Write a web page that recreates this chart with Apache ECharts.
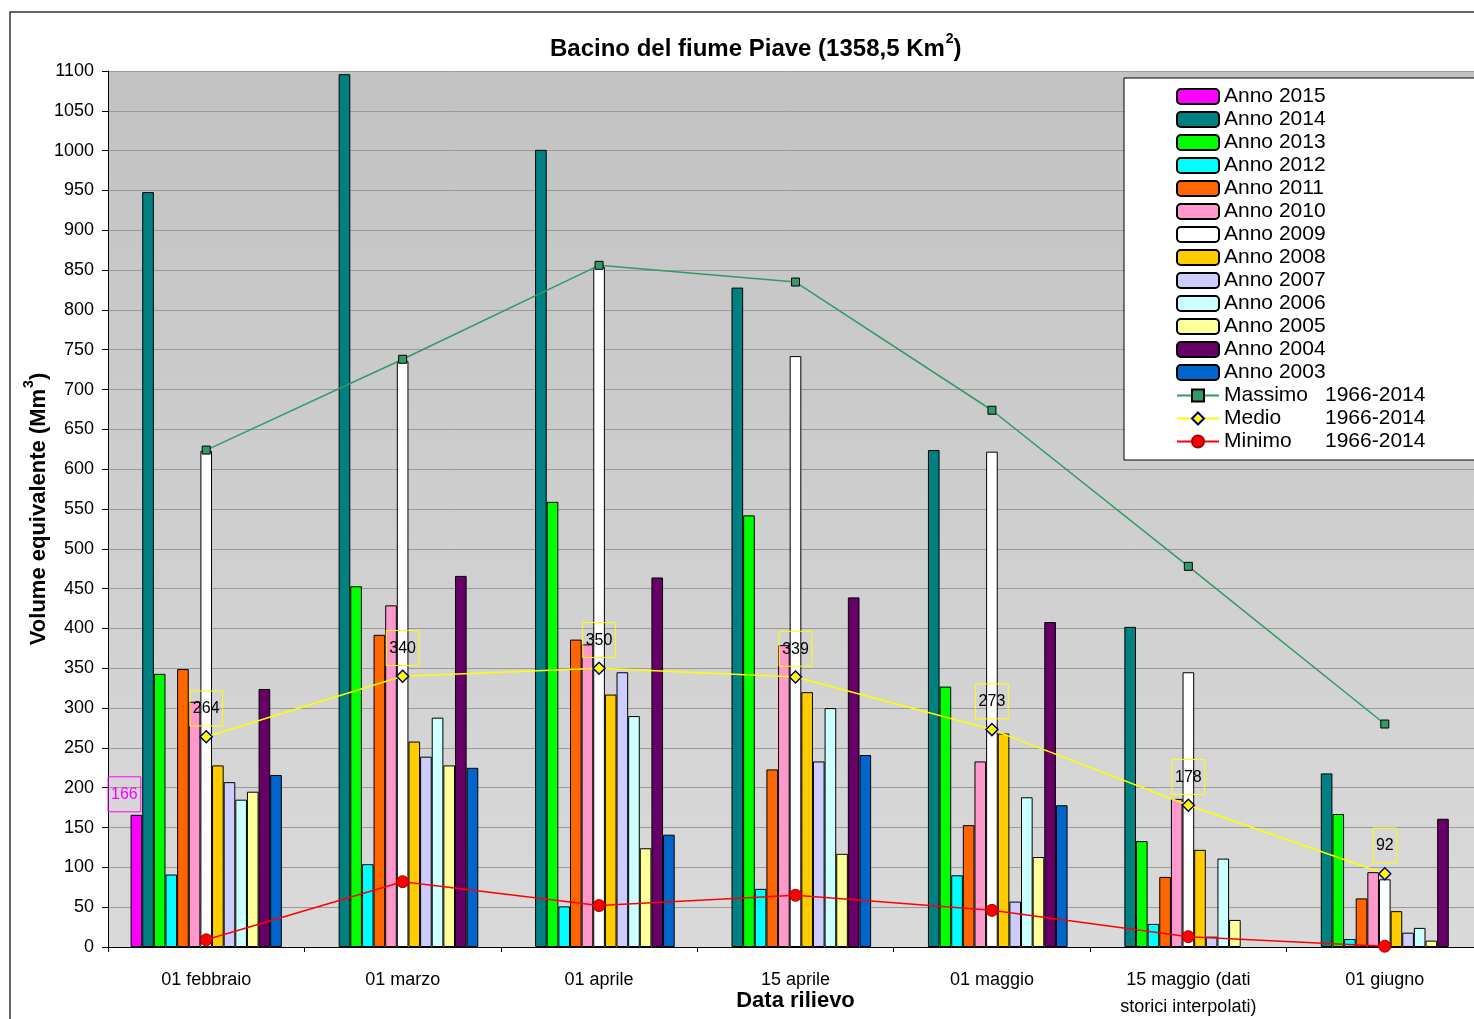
<!DOCTYPE html>
<html>
<head>
<meta charset="utf-8">
<script src="https://cdn.jsdelivr.net/npm/echarts@6/dist/echarts.min.js"></script>
<style>
  html, body { margin: 0; padding: 0; background: #fff; }
  #chart { width: 1474px; height: 1019px; }
</style>
</head>
<body>
<div id="chart"></div>
<script>
const categories = ['01 febbraio', '01 marzo', '01 aprile', '15 aprile', '01 maggio', '15 maggio (dati\nstorici interpolati)', '01 giugno'];

const anno2015 = [166, null, null, null, null, null, null];
const anno2014 = [948, 1096, 1001, 828, 624, 402, 218];
const anno2013 = [343, 453, 559, 542, 327, 133, 167];
const anno2012 = [91, 104, 51, 73, 90, 29, 10];
const anno2011 = [349, 392, 386, 223, 153, 88, 61];
const anno2010 = [308, 429, 380, 379, 233, 186, 94];
const anno2009 = [623, 736, 854, 742, 622, 345, 85];
const anno2008 = [228, 258, 317, 320, 268, 122, 45];
const anno2007 = [207, 239, 345, 233, 57, 13, 18];
const anno2006 = [185, 288, 290, 300, 188, 111, 24];
const anno2005 = [195, 228, 124, 117, 113, 34, 8];
const anno2004 = [324, 466, 464, 439, 408, null, 161];
const anno2003 = [216, 225, 141, 241, 178, null, null];

const massimo = [624, 738, 856, 835, 674, 478, 280];
const medio = [264, 340, 350, 339, 273, 178, 92];
const minimo = [9, 82, 52, 65, 46, 13, 1];

const years = [
  ['Anno 2015', anno2015, '#ff00ff'],
  ['Anno 2014', anno2014, '#008080'],
  ['Anno 2013', anno2013, '#00ff00'],
  ['Anno 2012', anno2012, '#00ffff'],
  ['Anno 2011', anno2011, '#ff6600'],
  ['Anno 2010', anno2010, '#ff99cc'],
  ['Anno 2009', anno2009, '#ffffff'],
  ['Anno 2008', anno2008, '#ffcc00'],
  ['Anno 2007', anno2007, '#ccccff'],
  ['Anno 2006', anno2006, '#ccffff'],
  ['Anno 2005', anno2005, '#ffff99'],
  ['Anno 2004', anno2004, '#660066'],
  ['Anno 2003', anno2003, '#0066cc']
];

const font = 'Liberation Sans, Arial, sans-serif';

const barSeries = years.map(([name, data, color]) => {
  const s = {
    name: name,
    type: 'bar',
    data: data,
    barGap: '0%',
    barCategoryGap: '23%',
    itemStyle: { color: color, borderColor: '#000', borderWidth: 1 },
    emphasis: { disabled: true }
  };
  if (name === 'Anno 2015') {
    s.label = {
      show: true,
      position: 'top',
      distance: 3,
      offset: [-12, 0],
      color: '#ff00ff',
      fontSize: 16,
      fontFamily: font,
      borderColor: '#ff00ff',
      borderWidth: 1,
      padding: [10, 3, 9, 3]
    };
  }
  return s;
});

const lineSeries = [
  {
    name: 'Massimo',
    type: 'line',
    data: massimo,
    z: 5,
    symbol: 'rect',
    symbolSize: 8,
    lineStyle: { color: '#339966', width: 1.5 },
    itemStyle: { color: '#339966', borderColor: '#000', borderWidth: 1 }
  },
  {
    name: 'Medio',
    type: 'line',
    data: medio,
    z: 5,
    symbol: 'diamond',
    symbolSize: 12,
    lineStyle: { color: '#ffff00', width: 1.5 },
    itemStyle: { color: '#ffff00', borderColor: '#000080', borderWidth: 1.5 },
    label: {
      show: true,
      position: 'top',
      distance: 4,
      color: '#000',
      fontSize: 16,
      fontFamily: font,
      borderColor: '#ffff00',
      borderWidth: 1,
      padding: [10, 3, 9, 3]
    }
  },
  {
    name: 'Minimo',
    type: 'line',
    data: minimo,
    z: 5,
    symbol: 'circle',
    symbolSize: 12,
    lineStyle: { color: '#ff0000', width: 1.5 },
    itemStyle: { color: '#ff0000', borderColor: '#aa0000', borderWidth: 1 }
  }
];

const chart = echarts.init(document.getElementById('chart'));
chart.setOption({
  animation: false,
  backgroundColor: '#fff',
  title: {
    text: '{t|Bacino del fiume Piave (1358,5 Km}{s|2}{t|)}',
    left: 545,
    top: 27,
    textStyle: {
      rich: {
        t: { fontSize: 24, fontWeight: 'bold', fontFamily: font, color: '#000' },
        s: { fontSize: 14, fontWeight: 'bold', fontFamily: font, color: '#000', padding: [0, 0, 20, 1] }
      }
    }
  },
  graphic: [{
    type: 'rect',
    shape: { x: 10, y: 12, width: 1480, height: 1030 },
    style: { fill: 'none', stroke: '#333', lineWidth: 1.5 },
    z: -1
  }],
  legend: {
    orient: 'vertical',
    left: 1124,
    top: 78,
    itemWidth: 42,
    itemHeight: 15,
    itemGap: 2,
    padding: [8, 60, 8, 52],
    backgroundColor: '#fff',
    borderColor: '#000',
    borderWidth: 1,
    data: years.map(y => y[0]).concat(['Massimo', 'Medio', 'Minimo']),
    formatter: name => {
      if (name === 'Massimo' || name === 'Medio' || name === 'Minimo') {
        return '{n|' + name + '}{y|1966-2014}';
      }
      return name;
    },
    textStyle: {
      fontSize: 21,
      fontFamily: font,
      color: '#000',
      rich: {
        n: { width: 101, fontSize: 21, fontFamily: font, color: '#000' },
        y: { fontSize: 21, fontFamily: font, color: '#000' }
      }
    }
  },
  grid: {
    left: 108,
    top: 71,
    right: -9,
    bottom: 72,
    containLabel: false,
    outerBoundsMode: 'none',
    show: true,
    borderWidth: 0,
    backgroundColor: new echarts.graphic.LinearGradient(0, 0, 0, 1, [
      { offset: 0, color: '#c2c2c2' },
      { offset: 1, color: '#dadada' }
    ])
  },
  xAxis: {
    type: 'category',
    data: categories,
    name: 'Data rilievo',
    nameLocation: 'middle',
    nameGap: 43,
    nameMoveOverlap: false,
    nameTextStyle: { fontSize: 22, fontWeight: 'bold', fontFamily: font, color: '#000' },
    axisLine: { lineStyle: { color: '#000', width: 1 } },
    axisTick: { show: true, interval: 0, length: 5, lineStyle: { color: '#000' } },
    axisLabel: { interval: 0, fontSize: 18, fontFamily: font, color: '#000', margin: 20, lineHeight: 27 }
  },
  yAxis: {
    type: 'value',
    min: 0,
    max: 1100,
    interval: 50,
    name: '{a|Volume equivalente (Mm}{s|3}{a|)}',
    nameLocation: 'middle',
    nameRotate: 90,
    nameGap: 52,
    nameMoveOverlap: false,
    nameTextStyle: {
      rich: {
        a: { fontSize: 22, fontWeight: 'bold', fontFamily: font, color: '#000' },
        s: { fontSize: 14, fontWeight: 'bold', fontFamily: font, color: '#000', padding: [0, 0, 20, 1] }
      }
    },
    axisLine: { show: true, lineStyle: { color: '#000', width: 1 } },
    axisTick: { show: true, length: 6, lineStyle: { color: '#000' } },
    axisLabel: { fontSize: 18, fontFamily: font, color: '#000', margin: 14, formatter: v => String(v) },
    splitLine: { lineStyle: { color: '#9a9a9a', width: 1 } }
  },
  series: barSeries.concat(lineSeries)
});
</script>
</body>
</html>
